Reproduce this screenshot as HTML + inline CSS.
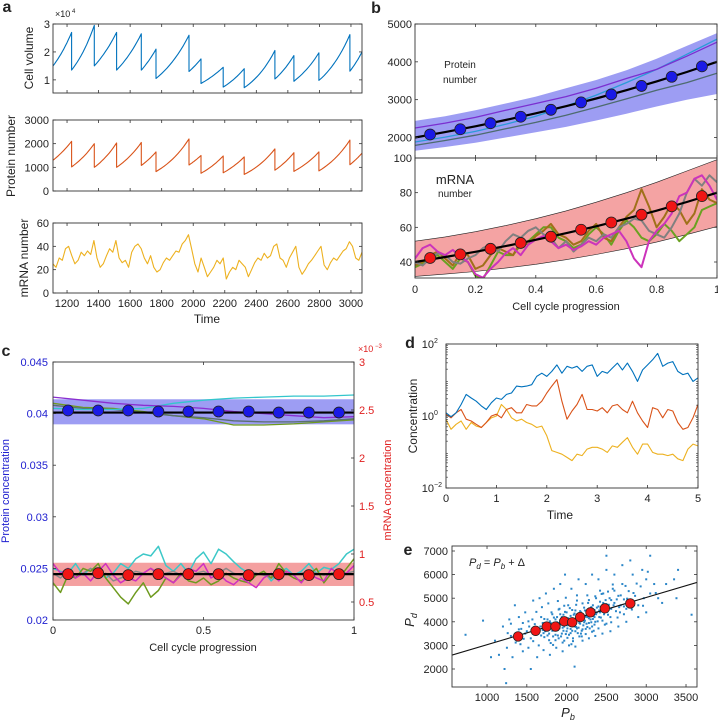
<!DOCTYPE html>
<html><head><meta charset="utf-8"><style>
html,body{margin:0;padding:0;background:#fff;}
svg{display:block;font-family:"Liberation Sans",Arial,sans-serif;}
</style></head><body>
<svg id="fig" width="718" height="722" viewBox="0 0 718 722" xmlns="http://www.w3.org/2000/svg"></svg>
<script>
// ===== Panel a data =====
const aStartT = 1111, aEndT = 3070;
const divTimes = [1229,1373,1514,1671,1764,1973,2049,2190,2323,2518,2638,2797,2993];
const volStart = 1.5, volEnd = 2.0;
const volPeak = [2.7,2.95,2.7,2.65,2.1,2.6,1.75,1.45,1.4,2.05,1.87,1.97,2.62];
const volAfter = [1.35,1.5,1.35,1.35,1.05,1.3,0.87,0.74,0.72,1.03,0.95,0.98,1.31];
const protStart = 1300, protEnd = 1600;
const protPeak = [2100,2000,2030,2050,1650,2200,1500,1480,1440,1780,1620,1650,2150];
const protAfter = [1020,1000,1000,1080,820,1100,750,770,700,880,830,850,1110];
const mrnaT0 = 1110, mrnaStep = 20;
const mrnaA = [25,22,30,28,38,40,32,25,28,35,32,36,33,45,30,22,25,32,38,35,45,30,26,28,22,35,40,42,38,30,25,32,22,18,20,26,30,28,32,36,35,42,45,50,38,25,18,30,22,14,18,22,28,25,30,12,18,22,20,28,25,22,14,20,26,30,28,34,30,32,40,42,30,28,22,30,35,40,22,16,20,25,28,32,36,40,24,20,26,30,28,32,36,38,44,40,30,28,35];
const aXTicks = [1200,1400,1600,1800,2000,2200,2400,2600,2800,3000];
// ===== Panel b data =====
const bX = [0,0.1,0.2,0.3,0.4,0.5,0.6,0.7,0.8,0.9,1];
const bMean = [2000,2144,2297,2462,2639,2828,3031,3249,3482,3732,4000];
const bPurple = [2250,2380,2530,2720,2900,3080,3300,3560,3800,4150,4520];
const bLightBlue = [1880,2010,2160,2350,2560,2830,3120,3450,3800,4200,4600];
const bGray = [1790,1920,2060,2230,2400,2590,2800,3020,3250,3450,3700];
const bBandHi = [2440,2560,2720,2900,3080,3300,3520,3780,4080,4420,4760];
const bBandLo = [1650,1750,1860,2000,2140,2280,2450,2630,2820,3000,3150];
const dotX = [0.05,0.15,0.25,0.35,0.45,0.55,0.65,0.75,0.85,0.95];
const bProtDots = [2080,2218,2378,2549,2732,2928,3138,3363,3605,3880];
const bmMean = [40,42.9,45.9,49.2,52.8,56.6,60.6,65,69.6,74.6,80];
const bmBandHi = [52,54.5,57.5,61,65,69.5,74.5,80,86,92.5,99];
const bmBandLo = [31.7,33,34.5,36.5,38.7,41.3,44.3,47.7,51.5,55.8,60.4];
const bmDots = [42.3,44.4,47.6,51,54.6,58.6,62.8,67.3,72.1,78];
const bmMagenta = [42,48,50,46,44,47,43,40,33,31,36,40,45,48,44,50,53,55,52,48,50,47,49,52,50,54,56,58,52,42,37,52,58,62,68,78,80,88,90,84,76];
const bmBrown = [38,40,44,46,42,38,45,44,36,38,44,48,46,44,52,50,55,58,62,56,54,50,52,58,62,54,52,60,66,70,82,72,60,66,74,70,62,68,82,76,74];
const bmGray = [40,38,42,45,44,40,39,42,44,48,50,46,52,56,54,58,60,56,54,48,52,46,50,54,52,56,54,60,62,65,64,58,56,54,60,68,80,88,84,90,86];
const bmGreen = [37,39,42,44,40,36,42,40,32,30,38,46,44,44,50,52,56,60,60,54,52,48,50,56,60,56,50,58,64,60,54,52,56,62,58,52,56,60,70,72,74];
const bXTicks = [0,0.2,0.4,0.6,0.8,1];
// ===== Panel c data =====
const cCyan = [0.0405,0.0404,0.0404,0.0405,0.041,0.0413,0.0415,0.0416,0.0417,0.0417,0.0418];
const cPurple = [0.0416,0.0413,0.041,0.0408,0.0407,0.0405,0.0402,0.0400,0.0398,0.0396,0.0397];
const cOlive = [0.041,0.0406,0.0405,0.0402,0.0398,0.0395,0.0389,0.0389,0.039,0.0392,0.0394];
const cGray = [0.0408,0.0405,0.0404,0.0401,0.0398,0.0396,0.0393,0.0392,0.0392,0.0393,0.0395];
const cProtBand = [0.03896,0.04139];
const cProtMean = 0.0401;
const cProtDots = [0.0403,0.0403,0.0403,0.0402,0.0402,0.0402,0.0402,0.0401,0.0401,0.0401];
const cMrnaBand = [0.667,0.909];
const cMrnaMean = 0.79;
const cMrnaDots = [0.79,0.8,0.78,0.79,0.79,0.79,0.78,0.79,0.78,0.79];
const cmCyan = [0.85,0.82,0.8,0.9,0.78,0.85,0.82,0.75,0.8,0.9,0.85,0.95,1.0,0.98,1.08,0.88,0.82,0.9,0.8,0.95,1.02,0.9,1.05,1.0,0.92,0.85,0.8,0.78,0.82,0.72,0.8,0.85,0.78,0.82,0.9,0.8,0.86,0.84,0.9,1.0,1.05];
const cmMagenta = [0.9,0.8,0.85,0.75,0.8,0.72,0.82,0.9,0.78,0.7,0.75,0.72,0.8,0.85,0.8,0.75,0.7,0.78,0.85,0.82,0.9,0.75,0.8,0.72,0.68,0.75,0.7,0.65,0.75,0.8,0.72,0.82,0.78,0.7,0.8,0.75,0.72,0.85,0.78,0.8,0.88];
const cmOlive = [0.7,0.6,0.78,0.75,0.85,0.82,0.9,0.75,0.65,0.55,0.48,0.6,0.7,0.55,0.62,0.75,0.7,0.8,0.72,0.7,0.75,0.68,0.72,0.8,0.75,0.72,0.7,0.78,0.82,0.75,0.9,0.8,0.75,0.72,0.78,0.85,0.7,0.8,0.75,0.85,0.95];
const cmGray = [0.8,0.75,0.82,0.78,0.8,0.85,0.78,0.8,0.72,0.75,0.78,0.82,0.8,0.85,0.78,0.8,0.82,0.78,0.75,0.8,0.82,0.78,0.8,0.85,0.8,0.78,0.82,0.8,0.78,0.75,0.8,0.82,0.78,0.8,0.82,0.8,0.78,0.8,0.82,0.8,0.82];
const cLeftTicks = [0.02,0.025,0.03,0.035,0.04,0.045];
const cLeftLabels = ["0.02","0.025","0.03","0.035","0.04","0.045"];
const cRightTicks = [0.5,1,1.5,2,2.5,3];
const cRightLabels = ["0.5","1","1.5","2","2.5","3"];
// ===== Panel d data (log10 of concentration, t = 0..5 step 0.1) =====
const dStep = 0.1;
const dBlue = [0.09,-0.02,0.09,0.32,0.60,0.50,0.41,0.28,0.18,0.37,0.50,0.46,0.60,0.64,0.83,0.81,0.83,0.87,1.10,1.19,1.10,1.24,1.42,1.19,1.38,1.33,1.38,1.24,1.38,1.42,1.10,1.24,1.19,1.33,1.47,1.28,1.47,1.24,0.96,1.28,1.42,1.56,1.74,1.38,1.47,1.51,1.24,1.15,1.19,0.96,1.06];
const dOrange = [0.05,-0.05,0.09,0.18,-0.09,-0.14,-0.23,-0.32,-0.18,0,0.05,-0.05,0.18,0.23,0.09,0.09,0.32,0.28,0.28,0.41,0.64,0.83,1.01,0.41,-0.09,0.14,0.32,0.60,0.18,0.18,0.14,0.23,0.09,0.28,0.32,0.18,0.09,0.41,0.09,-0.14,-0.32,0.23,0.18,-0.05,0.18,0.14,-0.18,-0.37,-0.32,-0.05,0.32];
const dYellow = [-0.09,-0.37,-0.23,-0.14,-0.37,-0.18,-0.28,-0.32,-0.18,-0.05,0,0.32,0.18,-0.05,-0.14,-0.09,-0.18,-0.23,-0.32,-0.28,-0.55,-0.96,-1.01,-1.06,-1.15,-1.24,-1.06,-1.10,-0.92,-0.87,-0.87,-0.92,-1.01,-0.83,-0.87,-0.73,-0.60,-0.87,-1.06,-0.78,-0.78,-1.01,-1.06,-1.06,-1.10,-1.06,-1.19,-1.24,-0.92,-0.78,-0.83];
const dXTicks = [0,1,2,3,4,5];
// ===== Panel e data (scatter in units of 10) =====
const ePts = [[138,340],[142,305],[150,360],[155,330],[160,390],[162,345],[165,300],[168,420],[170,365],[172,335],[175,380],[176,410],[178,350],[180,310],[181,440],[183,372],[185,395],[186,345],[188,420],[189,365],[190,330],[191,455],[192,388],[193,405],[194,350],[195,375],[196,430],[197,320],[198,395],[199,415],[200,360],[200,440],[201,385],[202,470],[203,345],[204,405],[205,425],[205,370],[206,390],[207,450],[208,330],[209,410],[210,380],[210,435],[211,360],[212,400],[213,490],[214,420],[215,375],[216,395],[217,445],[218,350],[219,415],[220,430],[221,385],[222,460],[223,405],[224,370],[225,440],[226,420],[227,480],[228,395],[229,455],[230,410],[231,435],[232,380],[233,470],[234,425],[235,450],[236,400],[237,500],[238,440],[240,465],[241,420],[242,485],[244,445],[245,405],[246,520],[248,460],[250,475],[252,430],[254,500],[256,455],[258,540],[260,480],[262,445],[265,510],[268,470],[270,560],[272,495],[275,455],[278,530],[280,485],[283,600],[286,510],[290,470],[293,550],[297,500],[300,580],[305,520],[110,320],[115,260],[120,380],[125,290],[128,410],[130,340],[132,250],[135,470],[140,420],[145,275],[148,440],[152,290],[158,490],[163,250],[166,500],[171,280],[174,520],[179,260],[184,540],[187,290],[192,560],[195,275],[198,600],[203,300],[206,540],[211,295],[215,580],[220,320],[224,560],[228,330],[232,600],[236,340],[240,580],[245,350],[250,620],[255,360],[260,600],[265,380],[270,640],[275,400],[280,660],[290,420],[295,620],[300,440],[310,560],[315,500],[320,480],[335,580],[340,620],[73,345],[95,405],[105,250],[250,680],[305,680],[338,500],[357,430],[122,200],[124,140],[155,200],[210,210],[185,365],[188,398],[191,372],[194,420],[197,380],[199,348],[202,415],[204,388],[207,362],[209,430],[212,378],[214,352],[216,412],[218,440],[220,368],[222,398],[224,422],[226,378],[228,415],[231,398],[195,395],[200,410],[205,395],[210,405],[215,410],[180,395],[177,370],[183,338],[186,410],[190,395],[170,395],[173,360],[167,380],[164,355],[160,370],[157,410],[153,380],[148,350],[145,395],[143,370],[235,420],[238,460],[242,440],[246,480],[251,455],[255,420],[259,470],[263,495],[267,440],[272,465],
[171,352],[174,388],[176,342],[179,402],[182,362],[184,418],[187,378],[189,342],[192,432],[194,398],[196,362],[198,442],[201,372],[203,398],[205,352],[207,412],[209,388],[211,448],[213,372],[215,428],[217,392],[219,362],[221,412],[223,448],[225,392],[227,428],[229,372],[231,462],[233,412],[235,388],[237,432],[239,402],[241,448],[243,418],[245,462],[247,432],[249,492],[251,442],[253,472],[256,492],[165,368],[168,342],[172,412],[178,322],[182,432],[186,322],[190,452],[193,338],[197,468],[201,332],[204,458],[208,318],[212,472],[216,338],[220,478],[224,348],[228,492],[232,358],[236,508],[240,372],[244,518],[248,388],[252,528],[256,398],[260,532],[264,418],[268,512],[272,432],[276,498],[282,452],[158,318],[152,402],[146,328],[140,368],[136,312],[130,392],[126,352],[162,442],[169,462],[177,478],[183,302],[189,488],[195,312],[199,502],[206,305],[213,512],[219,338],[226,512],[234,362],[242,532],[250,392],[258,558],[266,462],[274,552],[284,522],[288,562],[296,468],[302,612],[312,522],[325,560]];
const eBinPb = [1390,1610,1750,1860,1970,2070,2170,2300,2480,2800];
const eBinPd = [3380,3620,3800,3800,4020,3980,4200,4400,4570,4780];
const eDelta = 2030;
const eXTicks = [1000,1500,2000,2500,3000,3500];
const eYTicks = [2000,3000,4000,5000,6000,7000];

// ===== helpers =====
const NS = "http://www.w3.org/2000/svg";
const svg = document.getElementById('fig');
function mk(tag, attrs, name, parent){
  const e = document.createElementNS(NS, tag);
  for (const k in attrs) e.setAttribute(k, attrs[k]);
  
  
  (parent||svg).appendChild(e);
  return e;
}
function lin(d0,d1,r0,r1){ return v => r0 + (v-d0)/(d1-d0)*(r1-r0); }
function txt(x,y,s,name,opt){
  opt = opt||{};
  const e = mk('text',{x:x,y:y,'font-size':opt.size||11,fill:opt.fill||'#222','text-anchor':opt.anchor||'middle','font-weight':opt.weight||'normal','font-style':opt.style||'normal',transform:opt.rot?`rotate(-90 ${x} ${y})`:''},name,opt.parent);
  e.textContent = s;
  return e;
}
function poly(pts, stroke, w, name, parent){
  const d = pts.map((p,i)=>(i?'L':'M')+p[0].toFixed(1)+','+p[1].toFixed(1)).join('');
  return mk('path',{d:d,fill:'none',stroke:stroke,'stroke-width':w,'stroke-linejoin':'round'},name,parent);
}
function area(xs, hi, lo, sx, sy, fill, name, parent, stroke){
  const top = xs.map((x,i)=>[sx(x),sy(hi[i])]);
  const bot = xs.map((x,i)=>[sx(x),sy(lo[i])]).reverse();
  const d = top.concat(bot).map((p,i)=>(i?'L':'M')+p[0].toFixed(1)+','+p[1].toFixed(1)).join('')+'Z';
  return mk('path',{d:d,fill:fill,stroke:stroke||'none','stroke-width':0.6},name,parent);
}
let clipId = 0;
function plotGroup(x0,y0,x1,y1,name){
  const id = 'clip'+(clipId++);
  const cp = mk('clipPath',{id:id},'clip-region');
  mk('rect',{x:x0,y:y0,width:x1-x0,height:y1-y0},'clip-rect',cp);
  return mk('g',{'clip-path':`url(#${id})`},name);
}
function frame(x0,y0,x1,y1,name){
  mk('rect',{x:x0,y:y0,width:x1-x0,height:y1-y0,fill:'none',stroke:'#333','stroke-width':0.9},name);
}
function xTicks(vals, sx, y0, y1, labels, labelY, name){
  vals.forEach((v,i)=>{
    const x = sx(v);
    mk('line',{x1:x,y1:y1,x2:x,y2:y1-3,stroke:'#333','stroke-width':0.8},name+'-tick');
    mk('line',{x1:x,y1:y0,x2:x,y2:y0+3,stroke:'#333','stroke-width':0.8},name+'-tick-top');
    if (labels) txt(x,labelY,labels[i],name+'-label');
  });
}
function yTicks(vals, sy, x0, x1, labels, labelX, name, fill){
  vals.forEach((v,i)=>{
    const y = sy(v);
    mk('line',{x1:x0,y1:y,x2:x0+3,y2:y,stroke:'#333','stroke-width':0.8},name+'-tick');
    mk('line',{x1:x1,y1:y,x2:x1-3,y2:y,stroke:'#333','stroke-width':0.8},name+'-tick-right');
    if (labels) txt(labelX,y+4,labels[i],name+'-label',{anchor:'end',fill:fill});
  });
}
function dots(xs, ys, sx, sy, r, fill, name, parent){
  xs.forEach((x,i)=>{ mk('circle',{cx:sx(x),cy:sy(ys[i]),r:r,fill:fill,stroke:'#222','stroke-width':0.8},name,parent); });
}
function seriesStep(vals, step, sx, sy){ return vals.map((v,i)=>[sx(i*step), sy(v)]); }

// ===== Panel letters =====
txt(7,12,'a','panel-label-a',{size:16,weight:'bold'});
txt(376,13,'b','panel-label-b',{size:16,weight:'bold'});
txt(6,356,'c','panel-label-c',{size:16,weight:'bold'});
txt(410,348,'d','panel-label-d',{size:16,weight:'bold'});
txt(408,555,'e','panel-label-e',{size:16,weight:'bold'});

// ===== Panel a =====
(function(){
  const X0=53,X1=362;
  const sx = lin(aStartT,aEndT,X0,X1);
  function saw(start,end,peaks,afters,sy,color,name,g){
    const pts=[]; let t0=aStartT, v0=start;
    const tt = divTimes.concat([aEndT]);
    const pk = peaks.concat([end]);
    tt.forEach((t1,i)=>{
      const v1=pk[i];
      for(let k=0;k<=12;k++){ const f=k/12; pts.push([sx(t0+(t1-t0)*f), sy(v0*Math.pow(v1/v0,f))]); }
      if(i<divTimes.length){ pts.push([sx(t1),sy(afters[i])]); v0=afters[i]; t0=t1; }
    });
    poly(pts,color,1.1,name,g);
  }
  let sy = lin(0.53,3.0,93,24);
  let g = plotGroup(X0,24,X1,93,'cell-volume-plot');
  saw(volStart,volEnd,volPeak,volAfter,sy,'#0072BD','cell-volume-line',g);
  frame(X0,24,X1,93,'cell-volume-axes');
  yTicks([1,2,3],sy,X0,X1,['1','2','3'],50,'cell-volume-y');
  xTicks(aXTicks,sx,24,93,null,0,'cell-volume-x');
  txt(55,17,'×10','cell-volume-exponent',{size:9,anchor:'start'});
  txt(72,13,'4','cell-volume-exponent-power',{size:6,anchor:'start'});
  txt(33,58,'Cell volume','cell-volume-y-title',{size:12,rot:true});
  sy = lin(0,3000,191,120);
  g = plotGroup(X0,120,X1,191,'protein-number-plot');
  saw(protStart,protEnd,protPeak,protAfter,sy,'#D95319','protein-number-line',g);
  frame(X0,120,X1,191,'protein-number-axes');
  yTicks([0,1000,2000,3000],sy,X0,X1,['0','1000','2000','3000'],49,'protein-number-y');
  xTicks(aXTicks,sx,120,191,null,0,'protein-number-x');
  txt(15,156,'Protein number','protein-number-y-title',{size:12,rot:true});
  sy = lin(0,60,293,223);
  g = plotGroup(X0,223,X1,293,'mrna-number-plot');
  poly(mrnaA.map((v,i)=>[sx(mrnaT0+i*mrnaStep),sy(v)]),'#EDB120',1.1,'mrna-number-line',g);
  frame(X0,223,X1,293,'mrna-number-axes');
  yTicks([0,20,40,60],sy,X0,X1,['0','20','40','60'],49,'mrna-number-y');
  xTicks(aXTicks,sx,223,293,aXTicks.map(String),307,'time-x');
  txt(28,258,'mRNA number','mrna-number-y-title',{size:12,rot:true});
  txt(207,323,'Time','time-x-title',{size:12});
})();

// ===== Panel b =====
(function(){
  const X0=415,X1=717;
  const sx = lin(0,1,X0,X1);
  let sy = lin(2000,5000,137.5,24);
  let g = plotGroup(X0,24,X1,158,'protein-cycle-plot');
  area(bX,bBandHi,bBandLo,sx,sy,'#9d9df3','protein-band',g);
  poly(bX.map((x,i)=>[sx(x),sy(bGray[i])]),'#4d6b6e',1.3,'protein-trace-gray',g);
  poly(bX.map((x,i)=>[sx(x),sy(bLightBlue[i])]),'#2b9bd8',1.3,'protein-trace-lightblue',g);
  poly(bX.map((x,i)=>[sx(x),sy(bPurple[i])]),'#7b2fd0',1.3,'protein-trace-purple',g);
  poly(bX.map((x,i)=>[sx(x),sy(bMean[i])]),'#000',2.2,'protein-mean-line',g);
  dots(dotX,bProtDots,sx,sy,5.5,'#1a1ae6','protein-mean-dot',g);
  frame(X0,24,X1,158,'protein-cycle-axes');
  yTicks([2000,3000,4000,5000],sy,X0,X1,['2000','3000','4000','5000'],412,'protein-cycle-y');
  xTicks(bXTicks,sx,24,158,null,0,'protein-cycle-x');
  txt(460,68,'Protein','protein-annotation',{size:10});
  txt(460,83,'number','protein-annotation-2',{size:10});
  sy = lin(40,100,262,158);
  g = plotGroup(X0,158,X1,278,'mrna-cycle-plot');
  area(bX,bmBandHi,bmBandLo,sx,sy,'#f4a3a3','mrna-band',g,'#222');
  const s41 = 1/40;
  poly(seriesStep(bmGreen,s41,sx,sy),'#6aa121',2,'mrna-trace-green',g);
  poly(seriesStep(bmBrown,s41,sx,sy),'#a0701a',2,'mrna-trace-brown',g);
  poly(seriesStep(bmGray,s41,sx,sy),'#808080',2,'mrna-trace-gray',g);
  poly(seriesStep(bmMagenta,s41,sx,sy),'#cc33bb',2,'mrna-trace-magenta',g);
  poly(bX.map((x,i)=>[sx(x),sy(bmMean[i])]),'#000',2.2,'mrna-mean-line',g);
  dots(dotX,bmDots,sx,sy,5.5,'#f01515','mrna-mean-dot',g);
  frame(X0,158,X1,278,'mrna-cycle-axes');
  yTicks([40,60,80],sy,X0,X1,['40','60','80'],412,'mrna-cycle-y');
  txt(412,162,'100','mrna-cycle-y-label-100',{anchor:'end'});
  xTicks(bXTicks,sx,158,278,['0','0.2','0.4','0.6','0.8','1'],293,'cell-cycle-x');
  txt(455,184,'mRNA','mrna-annotation',{size:13});
  txt(455,197,'number','mrna-annotation-2',{size:10});
  txt(566,310,'Cell cycle progression','cell-cycle-x-title',{size:11});
})();

// ===== Panel c =====
(function(){
  const X0=53,X1=354,Y0=362,Y1=620;
  const sx = lin(0,1,X0,X1);
  const syL = lin(0.02,0.045,Y1,Y0);
  const syR = lin(0.3125,3,Y1,Y0);
  const g = plotGroup(X0,Y0,X1,Y1,'concentration-plot');
  mk('rect',{x:X0,y:syL(cProtBand[1]),width:X1-X0,height:syL(cProtBand[0])-syL(cProtBand[1]),fill:'#9d9df3'},'protein-conc-band',g);
  poly(bX.map((x,i)=>[sx(x),syL(cOlive[i])]),'#6e9a1e',1.3,'protein-conc-olive',g);
  poly(bX.map((x,i)=>[sx(x),syL(cGray[i])]),'#5a7070',1.3,'protein-conc-gray',g);
  poly(bX.map((x,i)=>[sx(x),syL(cCyan[i])]),'#33c6cc',1.3,'protein-conc-cyan',g);
  poly(bX.map((x,i)=>[sx(x),syL(cPurple[i])]),'#8a2ed0',1.3,'protein-conc-purple',g);
  mk('line',{x1:X0,x2:X1,y1:syL(cProtMean),y2:syL(cProtMean),stroke:'#000','stroke-width':2.2},'protein-conc-mean',g);
  dots(dotX,cProtDots,sx,syL,5.5,'#1a1ae6','protein-conc-dot',g);
  mk('rect',{x:X0,y:syR(cMrnaBand[1]),width:X1-X0,height:syR(cMrnaBand[0])-syR(cMrnaBand[1]),fill:'#f4a0a0'},'mrna-conc-band',g);
  const s41=1/40;
  poly(seriesStep(cmCyan,s41,sx,syR),'#3cc8c8',1.5,'mrna-conc-cyan',g);
  poly(seriesStep(cmGray,s41,sx,syR),'#8a8a8a',1.5,'mrna-conc-gray',g);
  poly(seriesStep(cmOlive,s41,sx,syR),'#6e9a1e',1.5,'mrna-conc-olive',g);
  poly(seriesStep(cmMagenta,s41,sx,syR),'#d030c0',1.5,'mrna-conc-magenta',g);
  mk('line',{x1:X0,x2:X1,y1:syR(cMrnaMean),y2:syR(cMrnaMean),stroke:'#000','stroke-width':2.2},'mrna-conc-mean',g);
  dots(dotX,cMrnaDots,sx,syR,5.5,'#f01515','mrna-conc-dot',g);
  frame(X0,Y0,X1,Y1,'concentration-axes');
  cLeftTicks.forEach((v,i)=>{
    const y=syL(v);
    mk('line',{x1:X0,x2:X0+3,y1:y,y2:y,stroke:'#333','stroke-width':0.8},'protein-conc-y-tick');
    txt(48,y+4,cLeftLabels[i],'protein-conc-y-label',{anchor:'end',fill:'#2020d0'});
  });
  cRightTicks.forEach((v,i)=>{
    const y=syR(v);
    mk('line',{x1:X1,x2:X1-3,y1:y,y2:y,stroke:'#333','stroke-width':0.8},'mrna-conc-y-tick');
    txt(359,y+4,cRightLabels[i],'mrna-conc-y-label',{anchor:'start',fill:'#e02020'});
  });
  txt(358,352,'×10','mrna-conc-exponent',{size:9,anchor:'start',fill:'#e02020'});
  txt(375,348,'−3','mrna-conc-exponent-power',{size:6,anchor:'start',fill:'#e02020'});
  xTicks([0,0.5,1],sx,Y0,Y1,['0','0.5','1'],634,'conc-x');
  txt(203,651,'Cell cycle progression','conc-x-title',{size:11});
  txt(9,491,'Protein concentration','protein-conc-y-title',{size:11,rot:true,fill:'#2020d0'});
  txt(391,490,'mRNA concentration','mrna-conc-y-title',{size:11,rot:true,fill:'#e02020'});
})();

// ===== Panel d =====
(function(){
  const X0=446,X1=698,Y0=344,Y1=488;
  const sx = lin(0,5,X0,X1);
  const sy = lin(-2,2,Y1,Y0);
  const g = plotGroup(X0,Y0,X1,Y1,'concentration-time-plot');
  poly(seriesStep(dYellow,dStep,sx,sy),'#EDB120',1.1,'conc-trace-yellow',g);
  poly(seriesStep(dOrange,dStep,sx,sy),'#D95319',1.1,'conc-trace-orange',g);
  poly(seriesStep(dBlue,dStep,sx,sy),'#0072BD',1.1,'conc-trace-blue',g);
  frame(X0,Y0,X1,Y1,'concentration-time-axes');
  for(let dec=-2;dec<2;dec++){ for(let m=2;m<10;m++){ const y=sy(dec+Math.log10(m));
    mk('line',{x1:X0,x2:X0+2,y1:y,y2:y,stroke:'#333','stroke-width':0.6},'log-minor-tick');
    mk('line',{x1:X1,x2:X1-2,y1:y,y2:y,stroke:'#333','stroke-width':0.6},'log-minor-tick-right'); } }
  yTicks([-2,0,2],sy,X0,X1,null,0,'conc-time-y');
  [-2,0,2].forEach(e=>{
    txt(434,sy(e)+4,'10','conc-time-y-label',{anchor:'end'});
    txt(434,sy(e)-1,String(e).replace('-','−'),'conc-time-y-label-exp',{anchor:'start',size:7});
  });
  xTicks(dXTicks,sx,Y0,Y1,dXTicks.map(String),502,'time-d-x');
  txt(560,519,'Time','time-d-x-title',{size:12});
  txt(417,416,'Concentration','concentration-y-title',{size:12,rot:true});
})();

// ===== Panel e =====
(function(){
  const X0=452,X1=697,Y0=546,Y1=687;
  const sx = lin(560,3638,X0,X1);
  const sy = lin(1237,7212,Y1,Y0);
  const g = plotGroup(X0,Y0,X1,Y1,'scatter-plot');
  ePts.forEach(p=>{ mk('rect',{x:sx(p[0]*10)-1,y:sy(p[1]*10)-1,width:2,height:2,fill:'#2b86c8'},'scatter-point',g); });
  poly([[sx(560),sy(560+eDelta)],[sx(3638),sy(3638+eDelta)]],'#111',1.1,'fit-line',g);
  dots(eBinPb,eBinPd,sx,sy,4.8,'#f01515','binned-mean-dot',g);
  frame(X0,Y0,X1,Y1,'scatter-axes');
  yTicks(eYTicks,sy,X0,X1,eYTicks.map(String),448,'pd-y');
  xTicks(eXTicks,sx,Y0,Y1,eXTicks.map(String),701,'pb-x');
  const t = txt(469,566,'','equation-annotation',{size:11,anchor:'start'});
  t.innerHTML = '<tspan font-style="italic">P</tspan><tspan font-size="8" dy="3" font-style="italic">d</tspan><tspan dy="-3"> = </tspan><tspan font-style="italic">P</tspan><tspan font-size="8" dy="3" font-style="italic">b</tspan><tspan dy="-3"> + Δ</tspan>';
  const yl = txt(414,620,'','pd-y-title',{size:13,rot:true});
  yl.innerHTML = '<tspan font-style="italic">P</tspan><tspan font-size="9" dy="3" font-style="italic">d</tspan>';
  const xl = txt(568,717,'','pb-x-title',{size:13});
  xl.innerHTML = '<tspan font-style="italic">P</tspan><tspan font-size="9" dy="3" font-style="italic">b</tspan>';
})();
</script>
</body></html>
